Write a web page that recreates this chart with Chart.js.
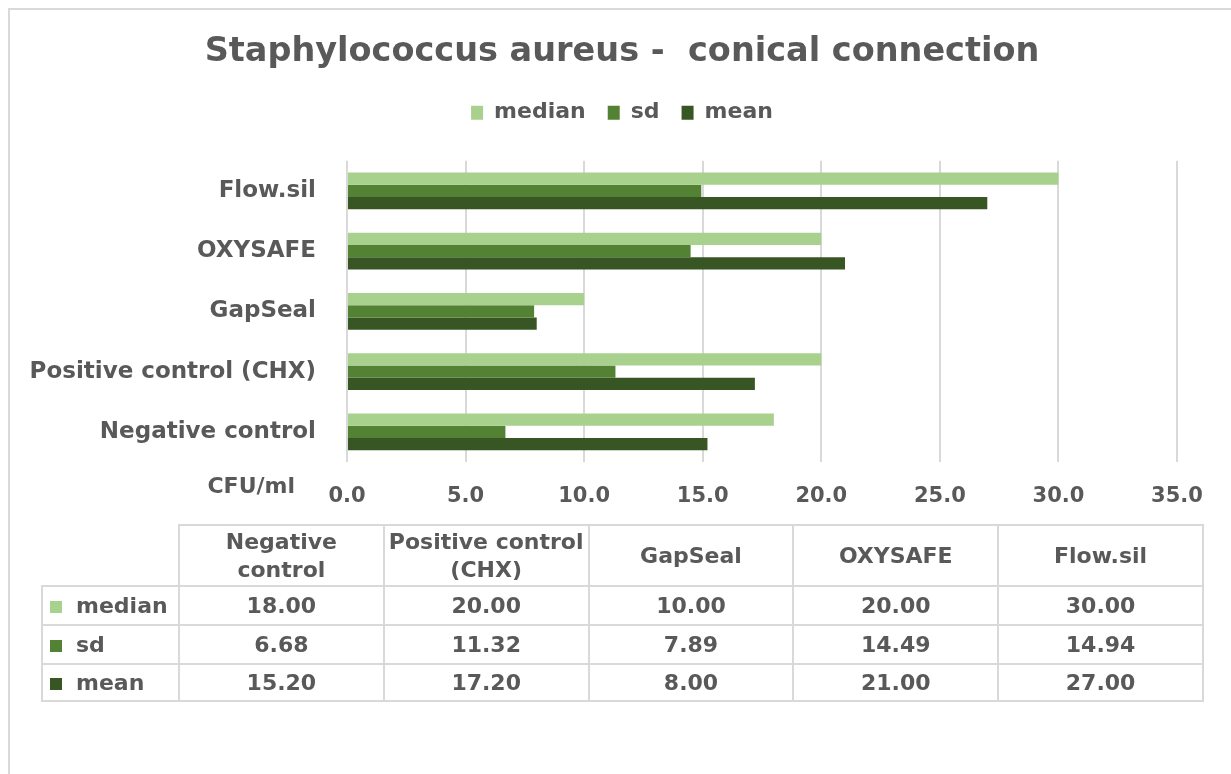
<!DOCTYPE html>
<html>
<head>
<meta charset="utf-8">
<script src="https://cdn.jsdelivr.net/npm/chart.js@4.4.1/dist/chart.umd.min.js"></script>
<style>
  html, body { margin:0; padding:0; background:#ffffff; width:1231px; height:774px; overflow:hidden; }
  #frame { position:absolute; left:8px; top:8px; width:1300px; height:800px; border-top:2px solid #d9d9d9; border-left:2px solid #d9d9d9; }
  #wrap { position:absolute; left:0; top:0; width:1231px; height:525px; }
  #tbl { position:absolute; left:41px; top:524px; border-collapse:collapse; table-layout:fixed;
         font-family:'DejaVu Sans', sans-serif; font-weight:bold; font-size:22px; color:#595959; }
  #tbl td { border:2px solid #d9d9d9; text-align:center; padding:0; white-space:normal; }
  #tbl td.blank { border:none; }
  #tbl td.key { text-align:left; padding-left:7px; white-space:nowrap; }
  #tbl .sw { display:inline-block; width:12px; height:12px; margin-right:14px; vertical-align:0px; }
  #tbl .hd { display:inline-block; max-width:200px; line-height:28px; }
</style>
</head>
<body>
<div id="frame"></div>
<div id="wrap"><canvas id="c" width="1231" height="525"></canvas></div>
<table id="tbl"></table>
<script>
// ---- data ----
const chartTitle = 'Staphylococcus aureus -  conical connection';
const unitLabel = 'CFU/ml';
const categories = ['Negative control', 'Positive control (CHX)', 'GapSeal', 'OXYSAFE', 'Flow.sil'];
const seriesNames = ['median', 'sd', 'mean'];
const medianValues = [18.00, 20.00, 10.00, 20.00, 30.00];
const sdValues = [6.68, 11.32, 7.89, 14.49, 14.94];
const meanValues = [15.20, 17.20, 8.00, 21.00, 27.00];
const seriesColors = ['#A9D18E', '#548235', '#375623'];
const axisMin = 0, axisMax = 35, axisStep = 5;

const seriesValues = [medianValues, sdValues, meanValues];
const textColor = '#595959';
const fontFamily = "'DejaVu Sans', sans-serif";

const unitLabelPlugin = {
  id: 'unitLabel',
  afterDraw(chart) {
    const ctx = chart.ctx, a = chart.chartArea;
    ctx.save();
    ctx.font = 'bold 22px ' + fontFamily;
    ctx.fillStyle = textColor;
    ctx.textAlign = 'right';
    ctx.textBaseline = 'middle';
    ctx.fillText(unitLabel, a.left - 52, a.bottom + 25);
    ctx.restore();
  }
};
const legendGapPlugin = {
  id: 'legendGap',
  beforeInit(chart) {
    const origFit = chart.legend.fit;
    chart.legend.fit = function () { origFit.bind(chart.legend)(); this.height += 27; };
  }
};

new Chart(document.getElementById('c'), {
  type: 'bar',
  data: {
    labels: categories,
    datasets: seriesNames.map((n, i) => ({
      label: n,
      data: seriesValues[i],
      backgroundColor: seriesColors[i],
      borderWidth: 0,
      categoryPercentage: 0.61,
      barPercentage: 1.0,
      xAxisID: 'x',
      yAxisID: 'y'
    }))
  },
  options: {
    indexAxis: 'y',
    responsive: false,
    animation: false,
    layout: { padding: { left: 20, right: 7, top: 0, bottom: 3 } },
    plugins: {
      title: { display: true, text: chartTitle, color: textColor,
        font: { family: fontFamily, size: 33.5, weight: 'bold' }, padding: { top: 32, bottom: 7.5 } },
      legend: { position: 'top',
        labels: { boxWidth: 12, boxHeight: 14, padding: 22, color: textColor,
          font: { family: fontFamily, size: 22, weight: 'bold' } } },
      tooltip: { enabled: false }
    },
    scales: {
      x: {
        min: axisMin, max: axisMax,
        ticks: { stepSize: axisStep, padding: 22, color: textColor,
          font: { family: fontFamily, size: 21, weight: 'bold' },
          callback: v => Number(v).toFixed(1) },
        grid: { color: '#d9d9d9', lineWidth: 2, drawTicks: false },
        border: { display: false },
        afterFit(s) { s.height = 60; }
      },
      y: {
        reverse: true,
        ticks: { padding: 31, color: textColor, font: { family: fontFamily, size: 23, weight: 'bold' } },
        grid: { display: false, drawTicks: false },
        border: { display: false },
        afterFit(s) { s.width = 327; }
      },
      yRight: {
        axis: 'y',
        type: 'category',
        position: 'right',
        ticks: { display: false },
        grid: { display: false, drawTicks: false },
        border: { display: false },
        afterFit(s) { s.width = 47; }
      }
    }
  },
  plugins: [legendGapPlugin, unitLabelPlugin]
});

// ---- data table ----
const tbl = document.getElementById('tbl');
const colgroup = document.createElement('colgroup');
[137].concat(categories.map(() => 204.8)).forEach(w => {
  const c = document.createElement('col'); c.style.width = w + 'px'; colgroup.appendChild(c);
});
tbl.appendChild(colgroup);
const hr = document.createElement('tr'); hr.style.height = '61px';
const blank = document.createElement('td'); blank.className = 'blank'; hr.appendChild(blank);
categories.forEach(cat => {
  const td = document.createElement('td');
  const sp = document.createElement('span'); sp.className = 'hd'; sp.textContent = cat;
  td.appendChild(sp); hr.appendChild(td);
});
tbl.appendChild(hr);
const rowHeights = [39, 39, 37];
seriesNames.forEach((n, i) => {
  const tr = document.createElement('tr'); tr.style.height = rowHeights[i] + 'px';
  const k = document.createElement('td'); k.className = 'key';
  const sw = document.createElement('span'); sw.className = 'sw'; sw.style.background = seriesColors[i];
  k.appendChild(sw); k.appendChild(document.createTextNode(n)); tr.appendChild(k);
  seriesValues[i].forEach(v => {
    const td = document.createElement('td'); td.textContent = v.toFixed(2); tr.appendChild(td);
  });
  tbl.appendChild(tr);
});
</script>
</body>
</html>
